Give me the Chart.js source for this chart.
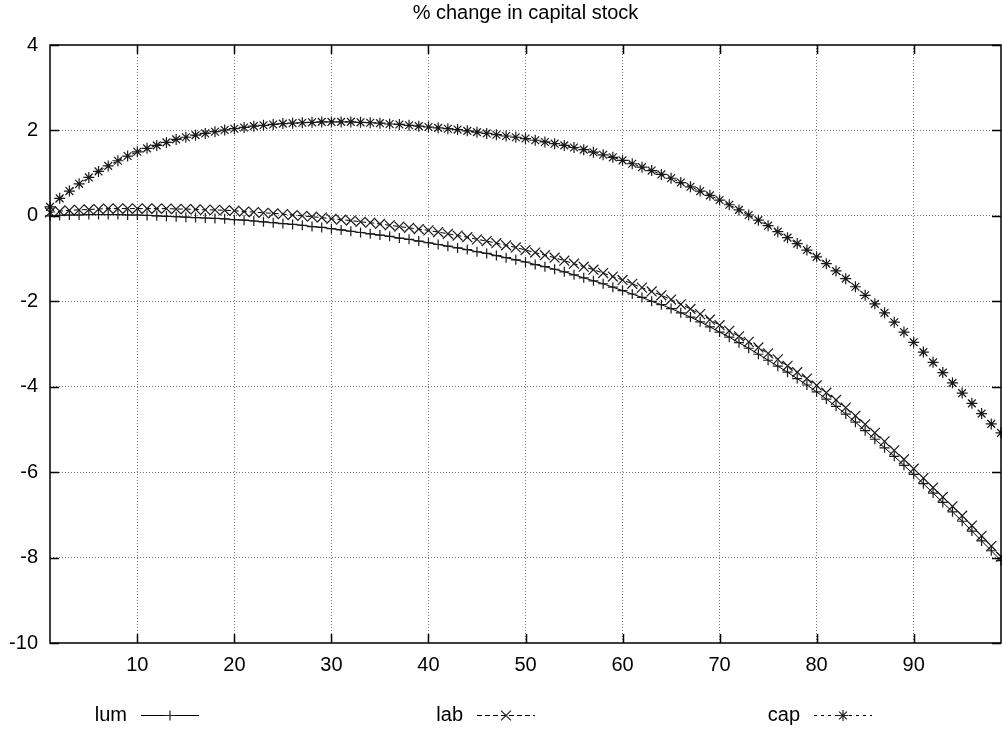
<!DOCTYPE html>
<html>
<head>
<meta charset="utf-8">
<title>% change in capital stock</title>
<script src="https://cdn.jsdelivr.net/npm/chart.js@4.4.1/dist/chart.umd.min.js"></script>
<style>
    html, body { margin: 0; padding: 0; background: #fff; }
    #wrap { width: 1002px; height: 733px; }
</style>
</head>
<body>
<div id="wrap"><canvas id="chart" width="1002" height="733"></canvas></div>
<script>
// Periodos (eje x)
const periods = [
    1, 2, 3, 4, 5, 6, 7, 8, 9, 10, 11, 12, 13, 14, 15, 16, 17, 18, 19, 20,
    21, 22, 23, 24, 25, 26, 27, 28, 29, 30, 31, 32, 33, 34, 35, 36, 37, 38, 39, 40,
    41, 42, 43, 44, 45, 46, 47, 48, 49, 50, 51, 52, 53, 54, 55, 56, 57, 58, 59, 60,
    61, 62, 63, 64, 65, 66, 67, 68, 69, 70, 71, 72, 73, 74, 75, 76, 77, 78, 79, 80,
    81, 82, 83, 84, 85, 86, 87, 88, 89, 90, 91, 92, 93, 94, 95, 96, 97, 98, 99
];
const xTicks = [10, 20, 30, 40, 50, 60, 70, 80, 90];
const yTicks = [-10, -8, -6, -4, -2, 0, 2, 4];

const seriesNames = ['lum', 'lab', 'cap'];

const lum = [
    0.00, 0.01, 0.02, 0.02, 0.03, 0.03, 0.03, 0.03, 0.02, 0.02,
    0.01, 0.00, -0.01, -0.02, -0.03, -0.04, -0.05, -0.06, -0.07, -0.09,
    -0.10, -0.12, -0.14, -0.16, -0.18, -0.20, -0.22, -0.25, -0.27, -0.30,
    -0.33, -0.36, -0.39, -0.42, -0.45, -0.48, -0.52, -0.55, -0.59, -0.63,
    -0.67, -0.71, -0.75, -0.79, -0.84, -0.88, -0.93, -0.98, -1.03, -1.08,
    -1.14, -1.19, -1.25, -1.31, -1.38, -1.45, -1.52, -1.59, -1.67, -1.75,
    -1.83, -1.91, -2.00, -2.08, -2.17, -2.27, -2.37, -2.48, -2.60, -2.72,
    -2.84, -2.97, -3.10, -3.24, -3.38, -3.52, -3.66, -3.81, -3.96, -4.12,
    -4.29, -4.46, -4.64, -4.83, -5.03, -5.23, -5.43, -5.63, -5.84, -6.05,
    -6.27, -6.49, -6.71, -6.93, -7.15, -7.38, -7.61, -7.84, -8.07
];

const lab = [
    0.08, 0.11, 0.13, 0.14, 0.15, 0.16, 0.17, 0.17, 0.17, 0.17,
    0.17, 0.17, 0.17, 0.16, 0.16, 0.15, 0.14, 0.14, 0.13, 0.12,
    0.10, 0.09, 0.07, 0.06, 0.04, 0.02, 0.00, -0.02, -0.04, -0.07,
    -0.09, -0.11, -0.14, -0.16, -0.19, -0.22, -0.25, -0.28, -0.31, -0.34,
    -0.38, -0.42, -0.46, -0.50, -0.55, -0.59, -0.64, -0.69, -0.74, -0.80,
    -0.86, -0.92, -0.98, -1.05, -1.12, -1.19, -1.26, -1.34, -1.42, -1.50,
    -1.59, -1.68, -1.77, -1.86, -1.96, -2.07, -2.18, -2.30, -2.43, -2.56,
    -2.69, -2.82, -2.95, -3.08, -3.22, -3.36, -3.51, -3.66, -3.81, -3.97,
    -4.14, -4.31, -4.49, -4.68, -4.88, -5.08, -5.28, -5.49, -5.70, -5.92,
    -6.14, -6.36, -6.58, -6.80, -7.02, -7.25, -7.49, -7.73, -7.98
];

const cap = [
    0.21, 0.41, 0.58, 0.75, 0.90, 1.04, 1.17, 1.29, 1.40, 1.50,
    1.58, 1.65, 1.72, 1.79, 1.84, 1.89, 1.93, 1.97, 2.01, 2.04,
    2.07, 2.10, 2.12, 2.14, 2.16, 2.17, 2.18, 2.19, 2.20, 2.20,
    2.20, 2.20, 2.19, 2.18, 2.17, 2.15, 2.14, 2.12, 2.10, 2.08,
    2.06, 2.04, 2.02, 1.99, 1.96, 1.93, 1.90, 1.87, 1.84, 1.81,
    1.77, 1.73, 1.69, 1.65, 1.60, 1.55, 1.49, 1.43, 1.37, 1.30,
    1.22, 1.14, 1.06, 0.97, 0.88, 0.78, 0.68, 0.58, 0.48, 0.37,
    0.26, 0.14, 0.02, -0.10, -0.23, -0.37, -0.51, -0.65, -0.80, -0.96,
    -1.12, -1.29, -1.47, -1.66, -1.86, -2.06, -2.27, -2.49, -2.72, -2.96,
    -3.19, -3.43, -3.67, -3.91, -4.15, -4.39, -4.63, -4.87, -5.08
];

const FONT = '"Liberation Sans", Arial, Helvetica, sans-serif';

function toPoints(values) {
    return values.map((v, i) => ({ x: periods[i], y: v }));
}

// Marco del grafico y marcas hacia adentro (estilo gnuplot)
const framePlugin = {
    id: 'frame',
    afterDatasetsDraw(chart) {
        const ctx = chart.ctx;
        const a = chart.chartArea;
        const xs = chart.scales.x, ys = chart.scales.y;
        const len = 9;
        ctx.save();
        ctx.strokeStyle = '#000';
        ctx.lineWidth = 1.5;
        ctx.beginPath();
        xTicks.forEach(t => {
            const px = Math.round(xs.getPixelForValue(t)) + 0.5;
            ctx.moveTo(px, a.bottom); ctx.lineTo(px, a.bottom - len);
            ctx.moveTo(px, a.top); ctx.lineTo(px, a.top + len);
        });
        yTicks.forEach(t => {
            const py = Math.round(ys.getPixelForValue(t)) + 0.5;
            ctx.moveTo(a.left, py); ctx.lineTo(a.left + len, py);
            ctx.moveTo(a.right, py); ctx.lineTo(a.right - len, py);
        });
        ctx.stroke();
        ctx.strokeRect(a.left, a.top, a.right - a.left, a.bottom - a.top);
        ctx.restore();
    }
};

// Leyenda abajo: texto y luego la muestra de linea
const keyPlugin = {
    id: 'key',
    afterDraw(chart) {
        const ctx = chart.ctx;
        const y = 715;
        const textRight = [127, 463, 800];
        chart.data.datasets.forEach((ds, i) => {
            ctx.save();
            ctx.font = '20px ' + FONT;
            ctx.fillStyle = '#000';
            ctx.textAlign = 'right';
            ctx.textBaseline = 'middle';
            ctx.fillText(ds.label, textRight[i], y);
            const x0 = textRight[i] + 14, x1 = x0 + 58;
            ctx.strokeStyle = '#000';
            ctx.lineWidth = 1;
            ctx.setLineDash(ds.borderDash || []);
            ctx.beginPath();
            ctx.moveTo(x0, y + 0.5);
            ctx.lineTo(x1, y + 0.5);
            ctx.stroke();
            ctx.setLineDash([]);
            ctx.strokeStyle = '#222';
            ctx.lineWidth = 1.2;
            Chart.helpers.drawPoint(ctx, {
                pointStyle: ds.pointStyle, radius: ds.pointRadius, rotation: 0, borderWidth: 1.2
            }, (x0 + x1) / 2, y + 0.5);
            ctx.restore();
        });
    }
};

const styles = [
    { pointStyle: 'cross', pointRadius: 5, borderDash: [] },
    { pointStyle: 'crossRot', pointRadius: 7, borderDash: [5, 3] },
    { pointStyle: 'star', pointRadius: 5.5, borderDash: [3, 4] }
];

const datasets = [lum, lab, cap].map((values, i) => ({
    label: seriesNames[i],
    data: toPoints(values),
    borderColor: '#000',
    borderWidth: 1,
    borderDash: styles[i].borderDash,
    pointStyle: styles[i].pointStyle,
    pointRadius: styles[i].pointRadius,
    pointBorderColor: '#1a1a1a',
    pointBorderWidth: 1.2,
    pointBackgroundColor: 'transparent',
    tension: 0,
    fill: false,
    clip: 10
}));

new Chart(document.getElementById('chart'), {
    type: 'line',
    data: { datasets },
    options: {
        responsive: false,
        animation: false,
        layout: { autoPadding: false, padding: { left: 0, right: 1, top: 0, bottom: 0 } },
        plugins: {
            legend: { display: false },
            tooltip: { enabled: false },
            title: {
                display: true,
                fullSize: false,
                text: '% change in capital stock',
                color: '#000',
                font: { family: FONT, size: 20, weight: 'normal' },
                padding: { top: 1, bottom: 20 }
            }
        },
        scales: {
            x: {
                type: 'linear',
                min: 1,
                max: 99,
                afterBuildTicks: s => { s.ticks = xTicks.map(v => ({ value: v })); },
                afterFit: s => { s.height = 90; s.paddingLeft = 0; s.paddingRight = 0; },
                grid: {
                    color: '#777',
                    drawTicks: false,
                    lineWidth: 1
                },
                border: { display: false, dash: [1, 2] },
                ticks: {
                    color: '#000',
                    padding: 10,
                    maxRotation: 0,
                    font: { family: FONT, size: 20 }
                }
            },
            y: {
                type: 'linear',
                min: -10,
                max: 4,
                afterBuildTicks: s => { s.ticks = yTicks.map(v => ({ value: v })); },
                afterFit: s => { s.width = 50; s.paddingTop = 0; s.paddingBottom = 0; },
                grid: {
                    color: ctx => (ctx.tick && (ctx.tick.value === -10 || ctx.tick.value === 4)) ? 'rgba(0,0,0,0)' : '#777',
                    drawTicks: false,
                    lineWidth: 1
                },
                border: { display: false, dash: [1, 2] },
                ticks: {
                    color: '#000',
                    padding: 12,
                    font: { family: FONT, size: 20 }
                }
            }
        }
    },
    plugins: [framePlugin, keyPlugin]
});
</script>
</body>
</html>
